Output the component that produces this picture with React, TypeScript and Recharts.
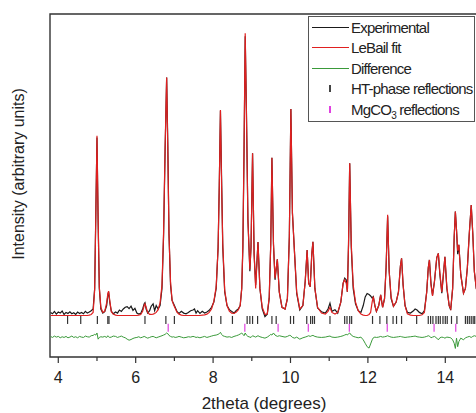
import React from "react";
import {
  ComposedChart,
  Line,
  Scatter,
  XAxis,
  YAxis,
  ReferenceArea,
  Legend,
} from "recharts";

// 2theta positions (degrees)
const twoTheta = [
  3.8, 3.85, 3.9, 3.95, 4.0, 4.05, 4.1, 4.15, 4.2, 4.25,
  4.3, 4.35, 4.4, 4.45, 4.5, 4.55, 4.6, 4.65, 4.7, 4.75,
  4.8, 4.85, 4.9, 4.94, 4.97, 5.0, 5.03, 5.06, 5.1, 5.15,
  5.2, 5.25, 5.28, 5.3, 5.33, 5.37, 5.42, 5.48, 5.53, 5.58,
  5.63, 5.68, 5.73, 5.78, 5.83, 5.88, 5.93, 5.98, 6.03, 6.08,
  6.13, 6.18, 6.22, 6.24, 6.27, 6.31, 6.36, 6.4, 6.45, 6.49,
  6.53, 6.58, 6.63, 6.68, 6.72, 6.76, 6.8, 6.83, 6.86, 6.9,
  6.94, 6.98, 7.02, 7.07, 7.12, 7.18, 7.24, 7.3, 7.36, 7.42,
  7.48, 7.52, 7.56, 7.6, 7.66, 7.72, 7.78, 7.84, 7.9, 7.96,
  8.02, 8.08, 8.13, 8.16, 8.19, 8.22, 8.25, 8.3, 8.36, 8.42,
  8.48, 8.54, 8.6, 8.65, 8.7, 8.74, 8.77, 8.8, 8.83, 8.86,
  8.9, 8.95, 8.98, 9.02, 9.06, 9.1, 9.16, 9.21, 9.27, 9.34,
  9.4, 9.45, 9.49, 9.52, 9.56, 9.6, 9.66, 9.71, 9.78, 9.86,
  9.92, 9.97, 10.01, 10.05, 10.11, 10.16, 10.24, 10.32, 10.38, 10.43,
  10.47, 10.51, 10.55, 10.58, 10.63, 10.7, 10.8, 10.9, 10.97, 11.02,
  11.07, 11.15, 11.22, 11.3, 11.36, 11.4, 11.44, 11.47, 11.5, 11.53,
  11.57, 11.62, 11.68, 11.75, 11.82, 11.88, 11.93, 11.98, 12.03, 12.07,
  12.11, 12.14, 12.18, 12.22, 12.28, 12.33, 12.38, 12.43, 12.47, 12.51,
  12.55, 12.6, 12.66, 12.73, 12.79, 12.84, 12.87, 12.91, 12.96, 13.02,
  13.1, 13.17, 13.22, 13.27, 13.33, 13.4, 13.46, 13.52, 13.56, 13.59,
  13.63, 13.67, 13.72, 13.78, 13.82, 13.86, 13.91, 13.95, 13.99, 14.04,
  14.1, 14.14, 14.19, 14.23, 14.26, 14.29, 14.32, 14.35, 14.4, 14.47,
  14.52, 14.57, 14.62, 14.67, 14.71, 14.75, 14.8, 14.85,
];

const experimental = [
  130, 126, 133, 125, 131, 128, 134, 124, 130, 127,
  132, 126, 129, 124, 131, 127, 130, 126, 133, 128,
  131, 135, 140, 200, 420, 640, 390, 200, 140, 128,
  132, 150, 180, 190, 160, 134, 126, 131, 128, 137,
  133, 140, 145, 147, 141, 148, 136, 142, 128, 125,
  127, 140, 155, 158, 140, 128, 135, 148, 155, 135,
  150, 140, 150, 200, 350, 600, 815, 620, 360, 210,
  165, 155, 145, 132, 127, 133, 128, 126, 130, 135,
  137, 140, 128, 135, 127, 133, 128, 131, 136, 145,
  160, 200, 320, 500, 718, 520, 320, 190, 150, 138,
  133, 128, 136, 140, 150, 200, 320, 600, 935, 730,
  400, 250, 320, 594, 300, 210, 335, 200, 140, 118,
  125, 170, 330, 581, 330, 225, 285, 190, 145, 140,
  170, 350, 723, 420, 292, 185, 137, 150, 220, 312,
  215, 205, 300, 336, 200, 143, 132, 128, 140, 157,
  133, 138, 128, 160, 215, 230, 225, 190, 330, 565,
  320, 200, 155, 135, 130, 150, 175, 185, 182, 178,
  172, 176, 150, 133, 150, 181, 145, 170, 260, 410,
  250, 170, 148, 160, 190, 265, 288, 210, 150, 130,
  128, 134, 140, 137, 130, 126, 135, 190, 260, 283,
  215, 180, 220, 290, 302, 240, 186, 240, 292, 200,
  150, 137, 200, 350, 424, 370, 300, 327, 240, 186,
  200, 260, 360, 443, 360, 250, 200, 185,
];

const leBailFit = [
  121, 121, 121, 121, 121, 121, 121, 121, 121, 121,
  121, 121, 121, 121, 121, 121, 121, 121, 121, 121,
  122, 124, 130, 195, 410, 645, 400, 205, 145, 130,
  133, 158, 185, 192, 165, 132, 125, 122, 121, 121,
  121, 121, 121, 121, 121, 121, 121, 121, 121, 122,
  124, 133, 150, 155, 145, 130, 124, 124, 125, 127,
  130, 138, 158, 210, 360, 610, 815, 600, 360, 220,
  165, 152, 142, 130, 125, 122, 121, 121, 121, 121,
  121, 121, 121, 121, 121, 122, 123, 125, 130, 140,
  162, 205, 320, 500, 720, 500, 330, 195, 150, 134,
  128, 127, 131, 137, 150, 200, 330, 610, 944, 720,
  400, 255, 320, 594, 300, 200, 335, 200, 145, 124,
  126, 175, 330, 581, 330, 230, 285, 190, 145, 140,
  170, 350, 723, 420, 292, 190, 140, 150, 220, 312,
  215, 205, 300, 336, 200, 145, 128, 125, 133, 145,
  130, 125, 130, 160, 215, 225, 215, 190, 330, 565,
  330, 210, 160, 135, 125, 122, 121, 121, 124, 130,
  160, 176, 150, 133, 150, 181, 145, 170, 260, 415,
  250, 175, 148, 160, 190, 265, 288, 210, 150, 126,
  122, 121, 121, 121, 121, 123, 130, 190, 260, 283,
  210, 178, 220, 290, 302, 245, 190, 240, 292, 205,
  150, 140, 200, 350, 424, 370, 310, 327, 240, 186,
  200, 260, 360, 443, 360, 250, 200, 185,
];

// difference curve, drawn with an offset below the pattern
const difference = [
  60, 57, 61, 58, 60, 56, 59, 57, 60, 56,
  58, 61, 57, 59, 56, 60, 58, 57, 61, 59,
  58, 62, 63, 66, 64, 70, 52, 57, 59, 58,
  60, 57, 62, 59, 57, 58, 61, 60, 57, 59,
  61, 58, 56, 52, 49, 51, 54, 56, 57, 59,
  56, 58, 60, 59, 57, 55, 57, 59, 60, 58,
  56, 58, 60, 62, 64, 66, 70, 68, 63, 60,
  58, 59, 57, 58, 60, 58, 56, 57, 59, 58,
  60, 59, 57, 58, 56, 58, 60, 57, 59, 61,
  63, 64, 66, 68, 72, 66, 62, 60, 58, 59,
  57, 60, 62, 64, 67, 70, 66, 62, 70, 64,
  60, 58, 57, 62, 60, 58, 62, 59, 57, 55,
  58, 62, 66, 64, 70, 64, 60, 62, 60, 58,
  60, 63, 62, 57, 55, 58, 52, 56, 58, 60,
  62, 60, 62, 63, 60, 58, 57, 58, 60, 61,
  58, 57, 58, 60, 62, 64, 66, 64, 68, 70,
  64, 60, 58, 56, 58, 50, 40, 30, 26, 38,
  50, 56, 58, 57, 58, 60, 58, 59, 60, 62,
  60, 58, 57, 58, 59, 60, 59, 58, 57, 58,
  59, 60, 61, 59, 58, 57, 58, 60, 62, 61,
  56, 58, 60, 55, 50, 56, 58, 57, 55, 58,
  57, 56, 50, 40, 25, 55, 30, 45, 55, 50,
  56, 58, 60, 57, 60, 62, 60, 61,
];

const htReflections = [
  4.24, 4.58, 5.01, 5.28, 5.31, 6.24, 6.78, 7.0, 7.96, 8.2,
  8.5, 8.88, 8.95, 9.02, 9.15, 9.52, 9.63, 10.0, 10.08, 10.42,
  10.52, 10.57, 10.62, 11.02, 11.4, 11.46, 11.53, 11.58, 12.12, 12.31,
  12.49, 12.65, 12.74, 12.87, 13.26, 13.56, 13.62, 13.68, 13.76, 13.82,
  13.87, 13.94, 14.0, 14.05, 14.16, 14.3, 14.52, 14.57, 14.62, 14.67,
  14.72, 14.76,
];

const mgco3Reflections = [6.84, 8.82, 9.68, 10.46, 11.52, 12.5, 13.71, 14.27];

const xTicks = [4, 5, 6, 7, 8, 9, 10, 11, 12, 13, 14];

const legendItems = [
  { label: "Experimental", kind: "line", color: "#1a1a1a" },
  { label: "LeBail fit", kind: "line", color: "#e02020" },
  { label: "Difference", kind: "line", color: "#3a9a3a" },
  { label: "HT-phase reflections", kind: "tick", color: "#444" },
  { label: "MgCO3 reflections", kind: "tick", color: "#e040e0" },
];

const FONT = "'Liberation Sans', Arial, sans-serif";
const HT_ROW = 108;
const MG_ROW = 85;

const rows = twoTheta.map((x, i) => ({
  x,
  exp: experimental[i],
  fit: leBailFit[i],
  diff: difference[i],
}));
const htData = htReflections.map((x) => ({ x, y: HT_ROW }));
const mgData = mgco3Reflections.map((x) => ({ x, y: MG_ROW }));

function AxisTick({ x, y, payload }: any) {
  const major = payload.value % 2 === 0;
  return (
    <g>
      <line x1={x} x2={x} y1={y} y2={y + (major ? 6 : 4)} stroke="#333" strokeWidth={1.2} />
      {major && (
        <text x={x} y={y + 15} dy="0.71em" textAnchor="middle" fontSize={16} fontFamily={FONT} fill="#222">
          {payload.value}
        </text>
      )}
    </g>
  );
}

const tickShape = (color: string) => (props: any) => (
  <line x1={props.cx} x2={props.cx} y1={props.cy - 4} y2={props.cy + 4} stroke={color} strokeWidth={1.2} />
);

function renderLabel(label: string) {
  if (label.startsWith("MgCO3")) {
    return (
      <span>
        MgCO<sub style={{ fontSize: 10, verticalAlign: "sub", lineHeight: 0 }}>3</sub>
        {label.slice(5)}
      </span>
    );
  }
  return <span>{label}</span>;
}

function LegendBox() {
  return (
    <div
      style={{
        boxSizing: "border-box",
        width: 167,
        height: 106,
        border: "1px solid #555",
        background: "#fff",
        fontFamily: FONT,
        fontSize: 15,
        letterSpacing: "-0.8px",
        color: "#222",
      }}
    >
      {legendItems.map((it) => (
        <div key={it.label} style={{ display: "flex", alignItems: "center", height: 20.5, whiteSpace: "nowrap" }}>
          <div style={{ width: 42, display: "flex", justifyContent: "center", alignItems: "center" }}>
            {it.kind === "line" ? (
              <div style={{ width: 37, borderTop: `1px solid ${it.color}` }} />
            ) : (
              <div style={{ width: 1.5, height: 7, background: it.color }} />
            )}
          </div>
          {renderLabel(it.label)}
        </div>
      ))}
    </div>
  );
}

export default function App() {
  return (
    <div
      style={{
        position: "fixed",
        left: 0,
        top: 0,
        width: 476,
        height: 413,
        overflow: "hidden",
        background: "#fff",
        fontFamily: FONT,
      }}
    >
      <ComposedChart width={500} height={413} data={rows} margin={{ top: 14, right: 16, bottom: 0, left: 0 }}>
        <XAxis
          dataKey="x"
          type="number"
          domain={[3.786, 15]}
          allowDataOverflow
          ticks={xTicks}
          tick={<AxisTick />}
          tickLine={false}
          tickSize={0}
          tickMargin={0}
          axisLine={false}
          height={56}
          interval={0}
          label={(p: any) => {
            const vb = p && p.viewBox ? p.viewBox : { x: 50, width: 434 };
            return (
              <text x={vb.x + vb.width / 2 - 3} y={409} textAnchor="middle" fontSize={17} fontFamily={FONT} fill="#222">
                2theta (degrees)
              </text>
            );
          }}
        />
        <YAxis
          type="number"
          domain={[0, 1000]}
          allowDataOverflow
          tick={false}
          tickLine={false}
          axisLine={false}
          width={50}
          label={() => (
            <text x={24} y={174} transform="rotate(-90 24 174)" textAnchor="middle" fontSize={16} fontFamily={FONT} fill="#222">
              Intensity (arbitrary units)
            </text>
          )}
        />
        <ReferenceArea x1={3.786} x2={15} y1={0} y2={1000} fill="none" stroke="#333" strokeWidth={1.4} />
        <Line dataKey="diff" stroke="#3a9a3a" strokeWidth={1} dot={false} type="linear" isAnimationActive={false} />
        <Line dataKey="exp" stroke="#1a1a1a" strokeWidth={1.2} dot={false} type="linear" isAnimationActive={false} />
        <Line dataKey="fit" stroke="#e02020" strokeWidth={1.2} dot={false} type="linear" isAnimationActive={false} />
        <Scatter data={htData} dataKey="y" shape={tickShape("#333")} isAnimationActive={false} />
        <Scatter data={mgData} dataKey="y" shape={tickShape("#e040e0")} isAnimationActive={false} />
        <Legend
          layout="vertical"
          align="center"
          verticalAlign="middle"
          content={() => <LegendBox />}
          wrapperStyle={{ left: 308, top: 16, width: 167, height: 106 }}
        />
      </ComposedChart>
    </div>
  );
}
